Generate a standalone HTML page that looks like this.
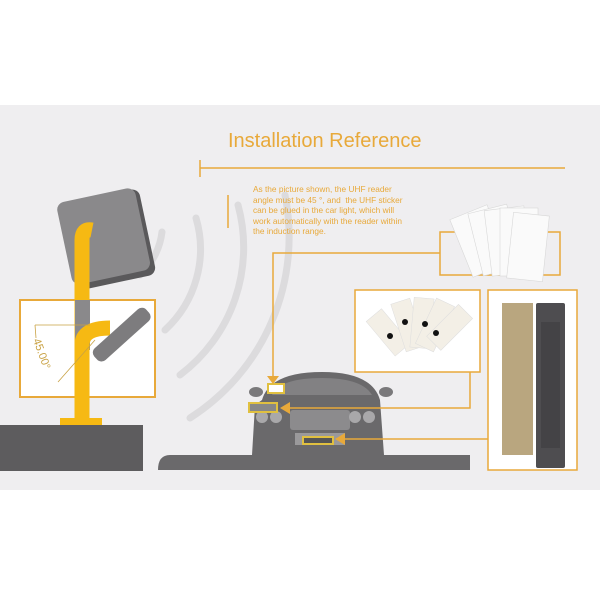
<!DOCTYPE html>
<html><head><meta charset="utf-8"><style>
html,body{margin:0;padding:0;background:#fff}
#c{position:relative;width:600px;height:600px;overflow:hidden;background:#fff;font-family:"Liberation Sans",sans-serif}
.a{position:absolute}
</style></head><body><div id="c">
<div class="a" style="left:0;top:105px;width:600px;height:385px;background:#efeef0"></div>
<svg class="a" style="left:0;top:0" width="600" height="600">
 <g fill="none" stroke="#dcdbdd" stroke-width="7" stroke-linecap="round">
  <path d="M162,232 A70,70 0 0 1 140,275"/>
  <path d="M196,218 A110,110 0 0 1 165,330"/>
  <path d="M238,205 A160,160 0 0 1 180,375"/>
  <path d="M285,195 A215,215 0 0 1 190,418"/>
 </g>
 <rect x="20" y="300" width="135" height="97" fill="#fff" stroke="#e8a93a" stroke-width="2"/>
 <g transform="rotate(-12 105 238)">
  <rect x="66" y="196" width="82" height="88" rx="8" fill="#5a595b"/>
  <rect x="64" y="194" width="80" height="84" rx="8" fill="#8a898b"/>
 </g>
 <path d="M82,420 L82,240 Q82,228 92,230" fill="none" stroke="#f6b913" stroke-width="15"/>
 <rect x="75" y="300" width="15" height="50" fill="#8a898b"/>
 <path d="M82,400 L82,345 Q82,328 110,328" fill="none" stroke="#f6b913" stroke-width="15"/>
 <rect x="88" y="330" width="70" height="16" rx="6" fill="#7d7c7e" transform="rotate(-42 118 338)"/>
 <path d="M35,325 L90,325 M35,325 L36,338 M58,382 L95,340" stroke="#c9a244" stroke-width="0.8" fill="none"/>
 <text x="0" y="0" font-size="11" fill="#c9a244" transform="translate(33,340) rotate(70)">45.00°</text>
 <rect x="60" y="418" width="42" height="7" fill="#f6b913"/>
 <rect x="0" y="425" width="143" height="46" fill="#5d5c5e"/>
 <path d="M170,455 L470,455 L470,470 L158,470 Q158,455 170,455Z" fill="#6a696b"/>
 <path d="M262,400 Q270,372 322,372 Q372,372 380,400 L384,455 L252,455 L255,405Z" fill="#6a696b"/>
 <path d="M272,395 Q280,378 322,378 Q362,378 372,395Z" fill="#828183"/>
 <ellipse cx="256" cy="392" rx="7" ry="5" fill="#7a797b"/><ellipse cx="386" cy="392" rx="7" ry="5" fill="#7a797b"/>
 <rect x="290" y="410" width="60" height="20" rx="3" fill="#8c8b8d"/>
 <circle cx="262" cy="417" r="6" fill="#a9a8aa"/><circle cx="276" cy="417" r="6" fill="#a9a8aa"/>
 <circle cx="355" cy="417" r="6" fill="#a9a8aa"/><circle cx="369" cy="417" r="6" fill="#a9a8aa"/>
 <rect x="295" y="433" width="50" height="12" fill="#9a999b"/>
 <rect x="268" y="384" width="16" height="9" fill="#fff" stroke="#e0c040" stroke-width="2"/>
 <rect x="249" y="403" width="28" height="9" fill="#888" stroke="#e0c040" stroke-width="2"/>
 <rect x="303" y="437" width="30" height="7" fill="#555" stroke="#e0c040" stroke-width="2"/>
 <g stroke="#e8a93a" stroke-width="1.5" fill="none">
  <path d="M440,253 L273,253 L273,376"/>
  <path d="M470,372 L470,408 L290,408"/>
  <path d="M488,439 L345,439"/>
 </g>
 <g fill="#e8a93a">
  <path d="M267,376 L279,376 L273,384Z"/>
  <path d="M290,402 L290,414 L280,408Z"/>
  <path d="M345,433 L345,445 L335,439Z"/>
 </g>
 <path d="M200,168 L565,168 M200,160 L200,177 M228,195 L228,228" stroke="#e8a93a" stroke-width="1.5"/>
 <rect x="440" y="232" width="120" height="43" fill="none" stroke="#e8a93a" stroke-width="1.5"/>
 <g fill="#fafafa" stroke="#d8d8d8" stroke-width="0.6">
  <rect x="460" y="210" width="40" height="62" transform="rotate(-22 480 241)"/>
  <rect x="475" y="208" width="40" height="64" transform="rotate(-14 495 240)"/>
  <rect x="488" y="208" width="40" height="66" transform="rotate(-7 508 241)"/>
  <rect x="500" y="208" width="38" height="68" transform="rotate(0 519 242)"/>
  <rect x="510" y="214" width="36" height="66" transform="rotate(6 528 247)"/>
 </g>
 <rect x="355" y="290" width="125" height="82" fill="#fff" stroke="#e8a93a" stroke-width="1.5"/>
 <g fill="#f3efe6" stroke="#ddd" stroke-width="0.5">
  <rect x="378" y="310" width="20" height="45" transform="rotate(-40 388 332)"/>
  <rect x="398" y="300" width="20" height="50" transform="rotate(-18 408 325)"/>
  <rect x="412" y="298" width="20" height="50" transform="rotate(5 422 323)"/>
  <rect x="425" y="300" width="20" height="50" transform="rotate(25 435 325)"/>
  <rect x="440" y="305" width="20" height="45" transform="rotate(45 450 327)"/>
 </g>
 <g fill="#111"><circle cx="390" cy="336" r="3"/><circle cx="405" cy="322" r="3"/><circle cx="425" cy="324" r="3"/><circle cx="436" cy="333" r="3"/></g>
 <rect x="488" y="290" width="89" height="180" fill="#fff" stroke="#e8a93a" stroke-width="1.5"/>
 <rect x="502" y="303" width="31" height="152" fill="#b9a67f"/>
 <rect x="536" y="303" width="29" height="165" rx="2" fill="#4e4d50"/>
 <rect x="541" y="322" width="19" height="126" fill="#444346"/>
</svg>
<div class="a" style="left:228px;top:130px;font-size:20px;color:#e8a93a">Installation Reference</div>
<div class="a" style="left:253px;top:184px;width:160px;font-size:8.3px;line-height:10.5px;color:#e8a93a">As the picture shown, the UHF reader angle must be 45 °, and &nbsp;the UHF sticker can be glued in the car light, which will work automatically with the reader within the induction range.</div>
</div></body></html>
